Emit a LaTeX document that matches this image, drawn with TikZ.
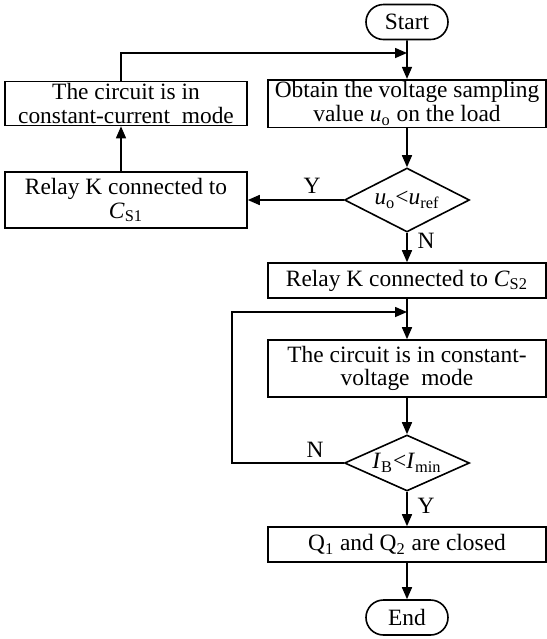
\documentclass[tikz,border=0pt]{standalone}
\usepackage{fontspec}
\setmainfont{Liberation Serif}
\usetikzlibrary{arrows.meta,shapes.geometric,shapes.misc}
\begin{document}
\begin{tikzpicture}[x=0.5pt,y=-0.5pt,>={Triangle[length=6pt,width=5pt]},
  every node/.style={font=\fontsize{11.7}{11.8}\selectfont,align=center},
  box/.style={draw,thick,minimum width=139pt,inner sep=1pt},
  lbox/.style={draw,thick,minimum width=121pt,inner sep=1pt},
  term/.style={draw,thick,rounded rectangle,minimum width=43pt,minimum height=17.5pt,inner sep=1pt},
  decide/.style={draw,thick,diamond,aspect=2,minimum width=62.5pt,inner sep=0pt}]
\useasboundingbox (0,0) rectangle (547,639);
\node[term] (start) at (407,22) {Start};
\node[box,minimum height=21.5pt] (obtain) at (407,103.5) {Obtain the voltage sampling\\value \textit{u}\textsubscript{o} on the load};
\node[lbox,minimum height=21.5pt] (cc) at (126,103.5) {The circuit is in\\constant-current\ \ mode};
\node[decide,minimum height=32pt] (dec1) at (407,200) {\textit{u}\textsubscript{o}<\textit{u}\textsubscript{ref}};
\node[lbox,minimum height=28pt] (relay1) at (126,200) {Relay K connected to\\\textit{C}\textsubscript{S1}};
\node[box,minimum height=17.5pt] (relay2) at (407,280.5) {Relay K connected to \textit{C}\textsubscript{S2}};
\node[box,minimum height=28.5pt] (cv) at (407,368.5) {The circuit is in constant-\\voltage\ \ mode};
\node[decide,minimum height=28pt] (dec2) at (407,463) {\textit{I}\textsubscript{B}<\textit{I}\textsubscript{min}};
\node[box,minimum height=17.5pt] (close) at (407,544.5) {Q\textsubscript{1} and Q\textsubscript{2} are closed};
\node[term] (end) at (407,617.5) {End};
% junctions
\coordinate (lx) at (121,0);
\coordinate (fb) at (407,53);
\coordinate (jn) at (407,312);
\coordinate (turn) at (232,312);
% main column
\draw[->,thick] (start) -- (obtain);
\draw[->,thick] (obtain) -- (dec1);
\draw[->,thick] (dec1) -- (relay2);
\draw[->,thick] (relay2) -- (cv);
\draw[->,thick] (cv) -- (dec2);
\draw[->,thick] (dec2) -- (close);
\draw[->,thick] (close) -- (end);
% left branch
\draw[->,thick] (dec1.west) -- (relay1.east);
\draw[->,thick] (relay1.north -| lx) -- (cc.south -| lx);
\draw[->,thick] (cc.north -| lx) |- (fb);
\draw[->,thick] (dec2.west) -| (turn) -- (jn);
% labels
\node (y1) at (312,186) {Y};
\node (n1) at (426,241) {N};
\node (n2) at (315,450) {N};
\node (y2) at (426,506) {Y};
\end{tikzpicture}
\end{document}
